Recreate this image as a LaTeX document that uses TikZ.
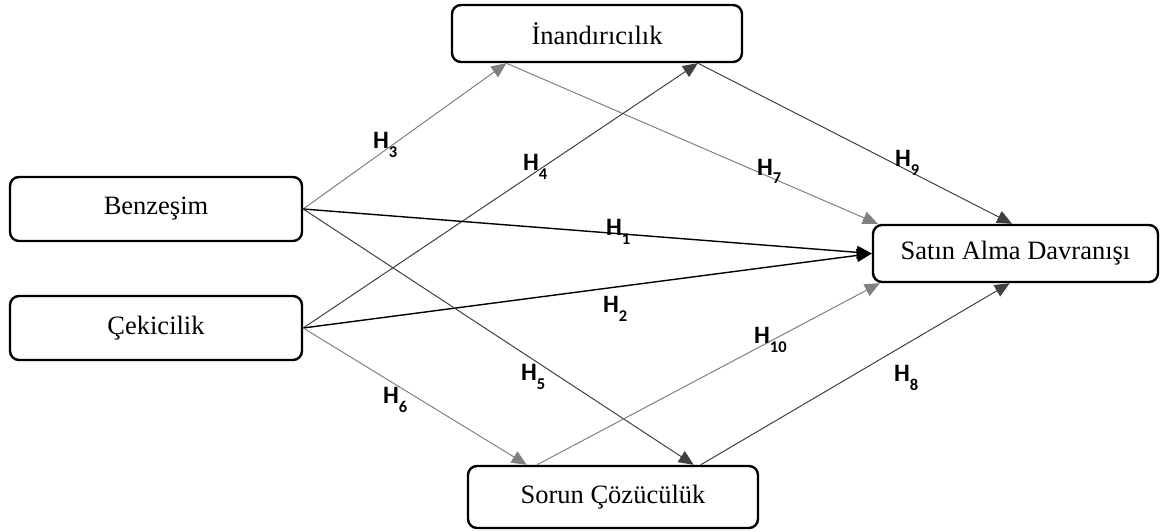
\documentclass[tikz,border=0pt]{standalone}
\usepackage{fontspec}
\setmainfont{Liberation Serif}
\newfontfamily\hfont{Carlito}
\usetikzlibrary{arrows.meta,calc}
\definecolor{grayline}{RGB}{128,128,128}
\definecolor{darkline}{RGB}{64,64,64}
\newcommand{\hyp}[1]{{\hfont\bfseries\fontsize{25}{25}\selectfont H\raisebox{-9pt}{\fontsize{16.5}{16.5}\selectfont #1}}}
\tikzset{
  box/.style={draw=black,line width=2.4pt,rounded corners=9pt,fill=white,inner sep=0pt,
    font=\fontsize{26.5}{28}\selectfont},
  garr/.style={draw=grayline,line width=1pt,-{Triangle[length=15pt,width=13pt]},color=grayline},
  darr/.style={draw=darkline,line width=1pt,-{Triangle[length=15pt,width=13pt]},color=darkline},
  barr/.style={draw=black,line width=1.4pt,-{Triangle[length=15pt,width=13pt]}},
  hlab/.style={anchor=base west,inner sep=0pt}
}
\begin{document}
\begin{tikzpicture}[x=1pt,y=-1pt]
\useasboundingbox (0,0) rectangle (1161,532);
\node[box,minimum width=290pt,minimum height=57pt] (ina) at (597,33.5) {İnandırıcılık};
\node[box,minimum width=292pt,minimum height=64pt] (ben) at (156,209) {Benzeşim};
\node[box,minimum width=292pt,minimum height=64pt] (cek) at (156,328) {Çekicilik};
\node[box,minimum width=285pt,minimum height=57pt] (sat) at (1015.5,253.5) {Satın Alma Davranışı};
\node[box,minimum width=290pt,minimum height=62pt] (sor) at (613,497) {Sorun Çözücülük};
% attachment points
\coordinate (inaA) at ($(ina.south west)!0.19!(ina.south east)$);
\coordinate (inaB) at ($(ina.south west)!0.845!(ina.south east)$);
\coordinate (sorA) at ($(sor.north west)!0.205!(sor.north east)$);
\coordinate (sorA2) at ($(sor.north west)!0.24!(sor.north east)$);
\coordinate (sorB) at ($(sor.north west)!0.776!(sor.north east)$);
\coordinate (sorB2) at ($(sor.north west)!0.80!(sor.north east)$);
\coordinate (satTL) at ($(sat.north west)+(6,0)$);
\coordinate (satT) at ($(sat.north west)!0.488!(sat.north east)$);
\coordinate (satBL) at ($(sat.south west)+(8,0)$);
\coordinate (satB) at ($(sat.south west)!0.48!(sat.south east)$);
% connectors
\draw[garr] (ben.east) -- (inaA);
\draw[garr] (inaA) -- (satTL);
\draw[darr] (cek.east) -- (inaB);
\draw[darr] (inaB) -- (satT);
\draw[barr] (ben.east) -- (sat.west);
\draw[barr] (cek.east) -- (sat.west);
\draw[darr] (ben.east) -- (sorB);
\draw[garr] (cek.east) -- (sorA);
\draw[garr] (sorA2) -- (satBL);
\draw[darr] (sorB2) -- (satB);
% labels
\node[hlab] (h3) at (373,149) {\hyp{3}};
\node[hlab] (h4) at (523,170) {\hyp{4}};
\node[hlab] (h7) at (757,175) {\hyp{7}};
\node[hlab] (h9) at (895,166) {\hyp{9}};
\node[hlab] (h1) at (606,235) {\hyp{1}};
\node[hlab] (h2) at (603,312) {\hyp{2}};
\node[hlab] (h10) at (754,343) {\hyp{10}};
\node[hlab] (h5) at (521,380) {\hyp{5}};
\node[hlab] (h6) at (383,403) {\hyp{6}};
\node[hlab] (h8) at (894,381) {\hyp{8}};
\end{tikzpicture}
\end{document}
